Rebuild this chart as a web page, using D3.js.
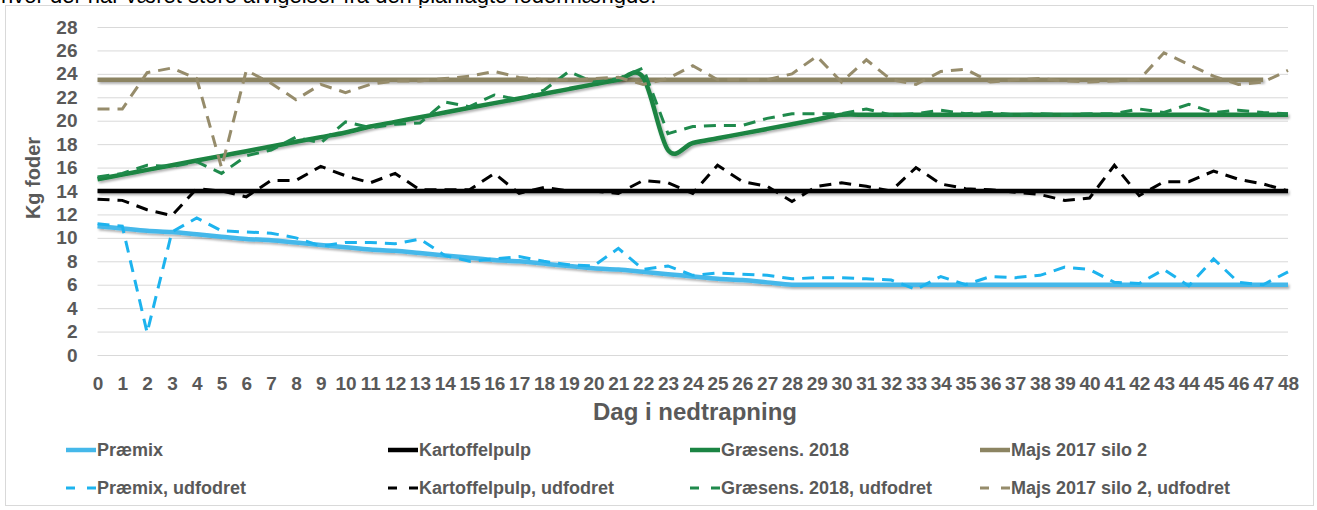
<!DOCTYPE html>
<html>
<head>
  <meta charset="utf-8">
  <title>Kg foder</title>
  <script src="https://d3js.org/d3.v7.min.js" charset="utf-8"></script>
  <style>
    body { margin: 0; background: #fff; }
    text { font-family: "Liberation Sans Narrow", "Liberation Sans", Arial, sans-serif; font-weight: bold; fill: #595959; }
  </style>
</head>
<body>
<script>
var w = 1317;
var h = 510;

// x categories: day in the phase-out
var days = [0,1,2,3,4,5,6,7,8,9,10,11,12,13,14,15,16,17,18,19,20,21,22,23,24,
            25,26,27,28,29,30,31,32,33,34,35,36,37,38,39,40,41,42,43,44,45,46,47,48];
var yTicks = [0,2,4,6,8,10,12,14,16,18,20,22,24,26,28];

// planned amounts (solid)
var premix = [11.0,10.8,10.6,10.5,10.3,10.1,9.9,9.8,9.6,9.4,9.2,9.0,8.9,8.7,8.5,8.3,8.1,8.0,7.8,7.6,
              7.4,7.3,7.1,6.9,6.7,6.5,6.4,6.2,6.0,6.0,6.0,6.0,6.0,6.0,6.0,6.0,6.0,6.0,6.0,6.0,
              6.0,6.0,6.0,6.0,6.0,6.0,6.0,6.0,6.0];
var kartoffel = [14,14,14,14,14,14,14,14,14,14,14,14,14,14,14,14,14,14,14,14,
                 14,14,14,14,14,14,14,14,14,14,14,14,14,14,14,14,14,14,14,14,
                 14,14,14,14,14,14,14,14,14];
var graes = [15.0,15.4,15.8,16.2,16.6,17.0,17.4,17.8,18.2,18.6,19.0,19.5,19.9,20.3,20.7,21.1,21.5,21.9,22.3,22.7,
             23.1,23.5,23.7,17.5,18.1,18.5,18.9,19.3,19.7,20.1,20.5,20.5,20.5,20.5,20.5,20.5,20.5,20.5,20.5,20.5,
             20.5,20.5,20.5,20.5,20.5,20.5,20.5,20.5,20.5];
var majs = [23.5,23.5,23.5,23.5,23.5,23.5,23.5,23.5,23.5,23.5,23.5,23.5,23.5,23.5,23.5,23.5,23.5,23.5,23.5,23.5,
            23.5,23.5,23.5,23.5,23.5,23.5,23.5,23.5,23.5,23.5,23.5,23.5,23.5,23.5,23.5,23.5,23.5,23.5,23.5,23.5,
            23.5,23.5,23.5,23.5,23.5,23.5,23.5,23.5];

// fed amounts (dashed)
var premixUd = [11.2,11.0,1.9,10.5,11.7,10.6,10.5,10.4,10.0,9.3,9.6,9.6,9.5,9.9,8.5,8.0,8.2,8.4,8.0,7.7,
                7.6,9.1,7.3,7.6,6.8,7.0,6.9,6.8,6.5,6.6,6.6,6.5,6.4,5.6,6.7,6.0,6.7,6.6,6.8,7.5,
                7.3,6.2,6.1,7.3,5.9,8.2,6.2,6.0,7.1];
var kartoffelUd = [13.3,13.2,12.4,11.9,14.2,14.0,13.5,14.9,14.9,16.1,15.3,14.7,15.5,14.1,14.1,14.1,15.5,13.8,14.3,14.0,
                   14.0,13.8,14.9,14.7,13.8,16.2,14.8,14.4,13.1,14.4,14.7,14.4,14.0,16.0,14.6,14.2,14.1,13.9,13.7,13.2,
                   13.4,16.2,13.6,14.8,14.8,15.7,15.0,14.6,14.0];
var graesUd = [15.2,15.5,16.2,16.1,16.5,15.5,17.0,17.5,18.6,18.1,19.9,19.4,19.7,19.8,21.6,21.2,22.2,21.8,22.6,24.2,
               23.3,23.6,24.5,18.9,19.5,19.6,19.6,20.2,20.6,20.6,20.6,21.0,20.5,20.6,20.9,20.6,20.7,20.5,20.6,20.5,
               20.6,20.6,21.0,20.7,21.4,20.7,20.9,20.7,20.6];
var majsUd = [21.0,21.0,24.1,24.5,23.6,16.0,24.3,23.2,21.8,23.1,22.4,23.1,23.4,23.4,23.6,23.8,24.2,23.7,23.5,23.5,
              23.6,23.7,23.1,23.6,24.7,23.5,23.5,23.5,24.0,25.5,23.3,25.2,23.5,23.1,24.2,24.4,23.3,23.5,23.6,23.4,
              23.3,23.4,23.5,25.8,24.8,23.8,23.1,23.3,24.3];

var names = ["Præmix","Kartoffelpulp","Græsens. 2018","Majs 2017 silo 2",
             "Præmix, udfodret","Kartoffelpulp, udfodret","Græsens. 2018, udfodret","Majs 2017 silo 2, udfodret"];
var colors = ["#45B8EA","#000000","#1B8443","#8C8462","#1DB3EE","#000000","#1F8A4C","#968C6B"];

var series = [
  {name: names[0], values: premix, color: colors[0], dashed: false},
  {name: names[1], values: kartoffel, color: colors[1], dashed: false},
  {name: names[2], values: graes, color: colors[2], dashed: false},
  {name: names[3], values: majs, color: colors[3], dashed: false},
  {name: names[4], values: premixUd, color: colors[4], dashed: true},
  {name: names[5], values: kartoffelUd, color: colors[5], dashed: true},
  {name: names[6], values: graesUd, color: colors[6], dashed: true},
  {name: names[7], values: majsUd, color: colors[7], dashed: true}
];
// paint order: green solid over the maize solid
var drawOrder = [0, 1, 3, 2, 4, 5, 6, 7];

var x = d3.scalePoint().domain(days).range([97.5, 1288]);
var y = d3.scaleLinear().domain([0, 28]).range([355, 27]);

var svg = d3.select("body")
            .append("svg")
            .attr("width", w)
            .attr("height", h);

// soft shadow under the solid lines (user space so flat lines keep it)
var f = svg.append("defs").append("filter").attr("id", "shadow")
  .attr("filterUnits", "userSpaceOnUse")
  .attr("x", 0).attr("y", 0).attr("width", w).attr("height", h);
f.append("feDropShadow").attr("dx", 1.5).attr("dy", 2).attr("stdDeviation", 1.2)
  .attr("flood-color", "#000").attr("flood-opacity", 0.3);

// cut-off caption line above the chart
svg.append("text")
   .attr("x", 1).attr("y", 3)
   .style("font-family", "'Liberation Sans', Arial, sans-serif")
   .style("font-weight", "normal")
   .style("fill", "#000")
   .style("font-size", "22px")
   .text("hvor der har været store afvigelser fra den planlagte fodermængde.");

// chart border
svg.append("rect")
   .attr("x", 5.5).attr("y", 5.5).attr("width", 1308).attr("height", 500)
   .attr("fill", "none").attr("stroke", "#D9D9D9");

// y axis + gridlines
var yAxis = svg.append("g")
   .attr("transform", "translate(97.5,0)")
   .call(d3.axisLeft(y).tickValues(yTicks).tickSize(-(1288 - 97.5)).tickPadding(20));
yAxis.select(".domain").remove();
yAxis.selectAll("line").attr("stroke", "#D9D9D9");
yAxis.selectAll("text").style("font-size", "19px");

// x axis labels
var xAxis = svg.append("g")
   .attr("transform", "translate(0,355)")
   .call(d3.axisBottom(x).tickSize(0).tickPadding(22));
xAxis.select(".domain").remove();
xAxis.selectAll("text").style("font-size", "19px");

svg.append("text")
   .attr("x", 695).attr("y", 420)
   .attr("text-anchor", "middle")
   .style("font-size", "24px")
   .text("Dag i nedtrapning");

svg.append("text")
   .attr("transform", "translate(40,178) rotate(-90)")
   .attr("text-anchor", "middle")
   .style("font-size", "20px")
   .text("Kg foder");

var solidLine = d3.line()
   .x(function (d, i) { return x(days[i]); })
   .y(function (d) { return y(d); })
   .curve(d3.curveCardinal.tension(0));
var dashLine = d3.line()
   .x(function (d, i) { return x(days[i]); })
   .y(function (d) { return y(d); });

svg.selectAll("path.serie")
   .data(drawOrder.map(function (k) { return series[k]; }))
   .enter()
   .append("path")
   .attr("class", "serie")
   .attr("fill", "none")
   .attr("stroke", function (d) { return d.color; })
   .attr("stroke-width", function (d) { return d.dashed ? 3 : 4.5; })
   .attr("stroke-dasharray", function (d) { return d.dashed ? "12,8" : null; })
   .attr("filter", function (d) { return d.dashed ? null : "url(#shadow)"; })
   .attr("d", function (d) { return d.dashed ? dashLine(d.values) : solidLine(d.values); });

// legend, 4 columns x 2 rows
var legX = [66, 388, 690, 980];
var legY = [450, 488];
var leg = svg.selectAll("g.leg")
   .data(series)
   .enter()
   .append("g")
   .attr("class", "leg")
   .attr("transform", function (d, i) { return "translate(" + legX[i % 4] + "," + legY[Math.floor(i / 4)] + ")"; });
leg.append("line")
   .attr("x1", 0).attr("x2", 30).attr("y1", 0).attr("y2", 0)
   .attr("stroke", function (d) { return d.color; })
   .attr("stroke-width", function (d) { return d.dashed ? 3 : 4.5; })
   .attr("stroke-dasharray", function (d) { return d.dashed ? "9,12" : null; });
leg.append("text")
   .attr("x", 31).attr("y", 0).attr("dy", "0.35em")
   .style("font-size", "18px")
   .text(function (d) { return d.name; });
</script>
</body>
</html>
